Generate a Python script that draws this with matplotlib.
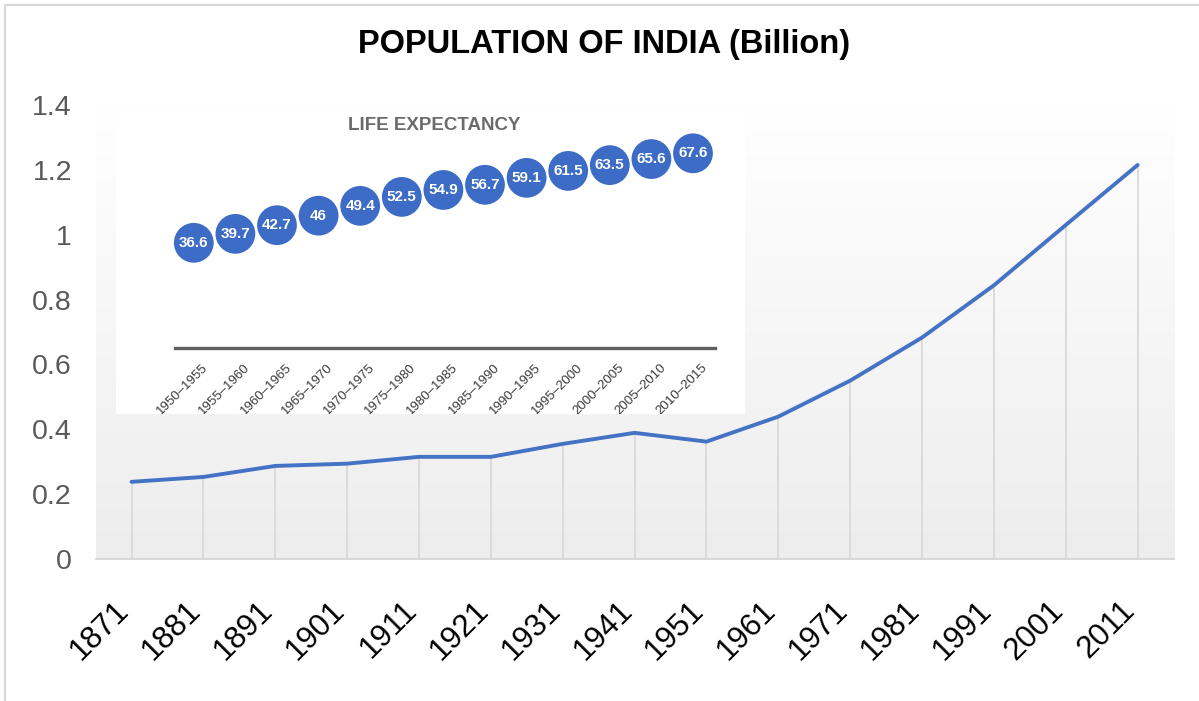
import numpy as np
import matplotlib.pyplot as plt
from matplotlib.colors import LinearSegmentedColormap
from matplotlib.lines import Line2D
import matplotlib.transforms as mtransforms

plt.rcParams['font.family'] = ['Liberation Sans', 'DejaVu Sans']

# main series: population of India (billion)
years = ['1871', '1881', '1891', '1901', '1911', '1921', '1931', '1941',
         '1951', '1961', '1971', '1981', '1991', '2001', '2011']
population = [0.238, 0.253, 0.287, 0.294, 0.315, 0.315, 0.355, 0.389,
              0.362, 0.439, 0.550, 0.683, 0.844, 1.030, 1.215]
y_ticks = [0, 0.2, 0.4, 0.6, 0.8, 1.0, 1.2, 1.4]
y_tick_labels = ['0', '0.2', '0.4', '0.6', '0.8', '1', '1.2', '1.4']

# inset picture: life expectancy by period
periods = ['1950–1955', '1955–1960', '1960–1965', '1965–1970', '1970–1975',
           '1975–1980', '1980–1985', '1985–1990', '1990–1995', '1995–2000',
           '2000–2005', '2005–2010', '2010–2015']
life_exp = [36.6, 39.7, 42.7, 46, 49.4, 52.5, 54.9, 56.7, 59.1, 61.5,
            63.5, 65.6, 67.6]

W, H = 1199, 701
fig = plt.figure(figsize=(W / 100, H / 100), dpi=100)

# thin chart border (top and left visible)
fig.add_artist(Line2D([5 / W, 1], [1 - 5 / H, 1 - 5 / H], color='#d9d9d9', lw=1.6))
fig.add_artist(Line2D([5 / W, 5 / W], [0, 1 - 5 / H], color='#d9d9d9', lw=1.6))

ax = fig.add_axes([95.6 / W, 1 - 559 / H, 1078 / W, (559 - 105) / H])
x = np.arange(len(years))
ax.set_xlim(-0.5, len(years) - 0.5)
ax.set_ylim(0, 1.4)

# plot area gradient fill
grad = np.linspace(0, 1, 256).reshape(-1, 1)
cmap = LinearSegmentedColormap.from_list('bg', ['#ffffff', '#ededed'])
ax.imshow(grad, cmap=cmap, aspect='auto', extent=[0, 1, 0, 1],
          transform=ax.transAxes, zorder=0, origin='upper')

# drop lines + line
ax.vlines(x, 0, population, color='#d9d9d9', lw=1.3, zorder=1)
ax.plot(x, population, color='#4472c4', lw=2.8, zorder=3, solid_capstyle='round')

for side in ['top', 'right', 'left']:
    ax.spines[side].set_visible(False)
ax.spines['bottom'].set_color('#d9d9d9')
ax.spines['bottom'].set_linewidth(1.5)

ax.set_yticks(y_ticks)
ax.set_yticklabels(y_tick_labels, fontsize=20.5, color='#595959')
ax.tick_params(axis='y', length=0, pad=17)
ax.set_xticks(x)
ax.set_xticklabels(years, fontsize=22.5, color='black', rotation=45,
                   ha='right', va='center', rotation_mode='anchor')
ax.tick_params(axis='x', length=0, pad=34)
offset = mtransforms.ScaledTranslation(-5 / 72, 0, fig.dpi_scale_trans)
for lbl in ax.get_xticklabels():
    lbl.set_transform(lbl.get_transform() + offset)

fig.text(604 / W, 1 - 44 / H, 'POPULATION OF INDIA (Billion)', fontsize=23.5,
         fontweight='bold', ha='center', va='center')

# inset: life expectancy picture
iax = fig.add_axes([116 / W, 1 - 414 / H, 629 / W, (414 - 110) / H])
iax.set_facecolor('white')
iax.set_xlim(-1.87, 13.25)
iax.set_ylim(-22.7, 82.6)
for s in iax.spines.values():
    s.set_visible(False)
iax.set_xticks([])
iax.set_yticks([])

ix = np.arange(len(periods))
iax.plot([-0.45, 12.53], [0, 0], color='#5f5f5f', lw=2.4)
iax.scatter(ix, life_exp, s=820, color='#3d6cc7', zorder=3, edgecolors='none')
for xi, v in zip(ix, life_exp):
    iax.text(xi, v, f'{v:g}', color='white', fontsize=11, fontweight='bold',
             ha='center', va='center', zorder=4)
for xi, p in zip(ix, periods):
    iax.text(xi + 0.2, -4.5, p, fontsize=9.5, color='#3a3a3a', rotation=45,
             ha='right', va='top', rotation_mode='anchor', clip_on=True)
iax.text(5.78, 77.4, 'LIFE EXPECTANCY', fontsize=13.5, fontweight='bold',
         color='#6b6b6b', ha='center', va='center')

fig.savefig('out.png', dpi=100)
